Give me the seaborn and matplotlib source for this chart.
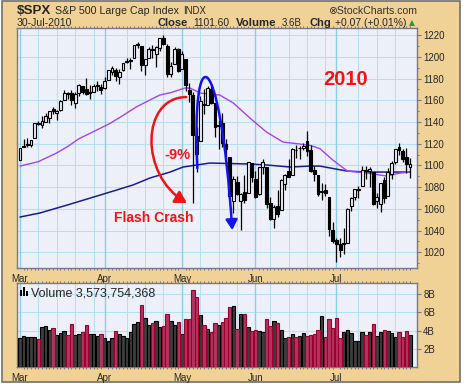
import numpy as np
import pandas as pd
import matplotlib
matplotlib.use("Agg")
import matplotlib.pyplot as plt
import seaborn as sns
from matplotlib.path import Path
from matplotlib.patches import FancyArrowPatch, Rectangle

# daily OHLC, S&P 500, 1 Mar - 30 Jul 2010
opens = [
    1105.36, 1117.01, 1119.36, 1119.12, 1125.12,
    1138.40, 1137.56, 1140.22, 1143.96, 1151.71,
    1148.53, 1150.83, 1159.94, 1166.13, 1166.68,
    1157.25, 1166.47, 1172.70, 1170.03, 1167.58,
    1167.71, 1173.75, 1171.75,
    1171.23,
    1178.71, 1186.01, 1188.23, 1181.75, 1187.47,
    1194.94, 1195.94, 1198.69, 1210.77, 1210.17,
    1192.06, 1199.04, 1207.16, 1202.52, 1207.87,
    1217.07, 1209.92, 1184.59, 1193.30, 1206.77,
    1188.58, 1197.50, 1169.24, 1164.38, 1127.04,
    1122.27, 1156.39, 1155.43, 1170.04, 1157.19,
    1136.52, 1138.78, 1119.57, 1107.34, 1067.26,
    1084.78, 1067.42, 1075.51, 1074.27, 1102.59,
    1087.30, 1073.89, 1098.82, 1098.43,
    1065.84, 1050.81, 1062.75, 1058.77, 1082.65,
    1095.00, 1091.21, 1114.02, 1115.98, 1116.16,
    1122.79, 1113.90, 1095.57, 1090.93, 1075.10,
    1077.50, 1071.10, 1040.56, 1031.10, 1027.65,
    1028.09, 1028.54, 1062.92, 1070.50,
    1077.23, 1080.65, 1095.61, 1094.46, 1093.85,
    1066.85, 1064.53, 1086.67, 1072.14, 1092.17,
    1102.89, 1117.36, 1112.84, 1108.07, 1098.44,
]
highs = [
    1116.11, 1123.96, 1125.64, 1123.73, 1139.38,
    1141.05, 1145.37, 1148.26, 1150.24, 1153.41,
    1150.98, 1160.28, 1169.20, 1167.77, 1169.20,
    1167.82, 1174.72, 1173.04, 1180.69, 1173.93,
    1174.85, 1177.83, 1174.56,
    1181.43,
    1187.73, 1191.80, 1189.60, 1188.55, 1194.66,
    1199.20, 1199.04, 1210.65, 1213.92, 1210.17,
    1197.87, 1208.58, 1210.99, 1210.27, 1217.28,
    1219.80, 1211.38, 1195.05, 1209.36, 1207.99,
    1205.13, 1197.50, 1175.95, 1167.58, 1135.13,
    1163.85, 1170.48, 1172.87, 1173.57, 1157.19,
    1141.88, 1148.66, 1124.27, 1107.34, 1090.16,
    1089.95, 1074.75, 1090.75, 1103.52, 1102.59,
    1094.77, 1098.42, 1105.67, 1098.43,
    1071.36, 1063.15, 1077.74, 1087.85, 1092.25,
    1105.91, 1115.59, 1118.74, 1117.72, 1121.01,
    1131.23, 1118.50, 1099.64, 1090.93, 1083.56,
    1082.60, 1071.10, 1048.08, 1033.58, 1032.95,
    1042.50, 1060.89, 1071.25, 1078.16,
    1080.78, 1099.46, 1099.08, 1098.66, 1093.85,
    1074.70, 1083.94, 1088.96, 1097.50, 1103.73,
    1115.01, 1120.95, 1114.66, 1115.90, 1106.44,
]
lows = [
    1105.36, 1116.51, 1116.58, 1116.66, 1125.12,
    1136.77, 1134.90, 1140.09, 1138.99, 1146.97,
    1141.45, 1150.35, 1159.94, 1161.16, 1155.33,
    1152.88, 1163.83, 1166.01, 1165.09, 1161.48,
    1167.71, 1168.92, 1165.77,
    1170.69,
    1178.71, 1182.77, 1177.25, 1175.12, 1187.15,
    1194.71, 1188.82, 1198.69, 1208.50, 1186.77,
    1183.68, 1199.04, 1198.85, 1190.19, 1205.10,
    1211.07, 1181.62, 1181.81, 1193.30, 1186.32,
    1188.58, 1168.12, 1158.15, 1065.79, 1094.15,
    1122.27, 1147.71, 1155.43, 1156.14, 1126.14,
    1114.96, 1117.20, 1100.66, 1071.58, 1055.90,
    1072.70, 1040.78, 1065.59, 1074.27, 1084.78,
    1069.89, 1072.94, 1091.81, 1060.50,
    1049.86, 1042.17, 1052.25, 1058.77, 1077.12,
    1089.03, 1091.21, 1107.13, 1105.87, 1113.93,
    1108.24, 1094.18, 1085.31, 1071.60, 1067.89,
    1071.45, 1035.18, 1028.33, 1010.91, 1015.93,
    1018.35, 1028.54, 1058.24, 1068.10,
    1070.45, 1080.65, 1087.68, 1080.53, 1063.32,
    1061.11, 1056.88, 1065.25, 1072.14, 1087.88,
    1101.30, 1109.78, 1103.11, 1092.82, 1088.01,
]
closes = [
    1115.71, 1118.31, 1118.79, 1122.97, 1138.70,
    1138.50, 1140.45, 1145.61, 1150.24, 1149.99,
    1150.51, 1159.46, 1166.21, 1165.83, 1159.90,
    1165.81, 1174.17, 1167.72, 1165.73, 1166.59,
    1173.22, 1173.27, 1169.43,
    1178.10,
    1187.44, 1189.44, 1182.45, 1186.44, 1194.37,
    1196.48, 1197.30, 1210.65, 1211.67, 1192.13,
    1197.52, 1207.17, 1205.94, 1208.67, 1217.28,
    1212.05, 1183.71, 1191.36, 1206.78, 1186.69,
    1202.26, 1173.60, 1165.87, 1128.15, 1110.88,
    1159.73, 1155.79, 1171.67, 1157.44, 1135.68,
    1136.94, 1120.80, 1115.05, 1071.59, 1087.69,
    1073.65, 1074.03, 1067.95, 1103.06, 1089.41,
    1070.71, 1098.38, 1102.83, 1064.88,
    1050.47, 1062.00, 1055.69, 1086.84, 1091.60,
    1089.63, 1115.23, 1114.61, 1116.04, 1117.51,
    1113.20, 1095.31, 1092.04, 1073.69, 1076.76,
    1074.57, 1041.24, 1030.71, 1027.37, 1022.58,
    1028.06, 1060.27, 1070.25, 1077.96,
    1078.75, 1095.34, 1095.17, 1096.48, 1064.88,
    1071.25, 1083.48, 1069.59, 1093.67, 1102.66,
    1115.01, 1113.84, 1106.13, 1101.53, 1101.60,
]
# volume, billions of shares
volume_b = [
    3.17, 3.46, 3.28, 3.28, 3.35, 3.13, 4.44, 4.55, 4.08, 4.26, 3.57, 3.79,
    4.00, 3.57, 4.77, 3.53, 3.64, 3.83, 4.66, 3.68, 3.61, 3.46, 3.68,
    3.21, 2.91, 3.24, 4.00, 3.68, 3.46, 3.17, 3.83, 4.77, 4.99, 6.85, 5.36,
    4.60, 4.88, 5.10, 4.44, 4.55, 5.87, 5.10, 4.66, 4.99,
    3.68, 5.25, 5.25, 8.42, 7.72, 5.76, 4.66, 4.23, 3.90, 4.88, 4.66, 4.99,
    5.36, 6.63, 6.74, 4.23, 5.87, 5.87, 4.44, 4.00,
    4.12, 4.00, 3.90, 5.25, 4.55, 5.10, 4.88, 4.12, 3.24, 3.35, 3.68, 3.35,
    3.46, 3.79, 3.46, 3.57, 3.68, 4.12, 5.65, 3.35, 5.25, 4.34,
    5.36, 3.24, 3.90, 4.12, 3.79, 2.91, 2.91, 3.90, 3.57, 3.90, 4.77, 3.46,
    3.90, 4.12, 4.00, 3.79, 3.35, 3.90, 3.35, 4.00, 3.57,
]
# moving averages (trading-day index, value)
ma50_day = [0, 5, 10, 13, 16, 19, 24.5, 28, 31.7, 35.3, 38, 41, 44.8, 46.2,
            49, 54.3, 58, 62.5, 67, 71.5, 75.3, 78.8, 81.5, 85, 89, 94.3,
            99.7, 103.3, 106]
ma50 = [1099.4, 1103.5, 1111.5, 1117.5, 1124.5, 1129.5, 1138.7, 1146.0,
        1154.0, 1160.2, 1164.8, 1167.0, 1171.2, 1171.2, 1166.6, 1164.8,
        1157.4, 1143.6, 1130.7, 1121.5, 1120.0, 1118.5, 1115.5, 1105.0,
        1094.8, 1093.0, 1090.2, 1093.0, 1093.9]
ma200_day = [0, 5.4, 12.8, 23.6, 30.7, 35.3, 38, 40.8, 44.3, 51.6, 62.5,
             67.1, 73.4, 78.8, 81.5, 88.9, 94.3, 106]
ma200 = [1052.5, 1056.2, 1063.5, 1074.6, 1082.0, 1088.4, 1091.1, 1093.9,
         1098.5, 1102.2, 1101.3, 1100.4, 1098.5, 1099.4, 1099.4, 1094.8,
         1093.9, 1093.9]
holidays = ["2010-04-02", "2010-05-31", "2010-07-05"]
price_ticks = [1020, 1040, 1060, 1080, 1100, 1120, 1140, 1160, 1180, 1200, 1220]
vol_ticks = [2, 4, 6, 8]

TAN = "#f0d296"
BG = "#eef0f9"
GRID = "#b6e0ee"
GRID_M = "#8ccde6"
SPINE = "#77778a"
PURPLE = "#a045ee"
NAVY = "#1c1c8a"
RED = "#f01414"
BLUE = "#1212f0"

sns.set_style("white")
plt.rcParams["font.family"] = ["Liberation Sans", "DejaVu Sans"]

dates = pd.bdate_range("2010-03-01", "2010-07-30")
dates = dates[~dates.isin(pd.to_datetime(holidays))]
day = np.arange(len(dates))
df = pd.DataFrame({"day": day, "open": opens, "high": highs, "low": lows,
                   "close": closes, "vol": volume_b})
month_start = [i for i in day if i == 0 or dates[i].month != dates[i - 1].month]
month_names = [dates[i].strftime("%b") for i in month_start]
week_start = [i for i in day if i > 0 and dates[i].weekday() < dates[i - 1].weekday()]
week_lines = [w for w in week_start if min(abs(w - m) for m in month_start) > 2]

W, H = 465.0, 384.0
def fx(px):
    return px / W
def fy(py):
    return 1 - py / H

fig = plt.figure(figsize=(4.65, 3.84), dpi=100, facecolor="white")
fig.patches.append(Rectangle((fx(1.5), fy(381.5)), fx(460) - fx(1.5), fy(1) - fy(381.5),
                             transform=fig.transFigure, facecolor=TAN,
                             edgecolor="#707070", lw=1.2, zorder=-10))

ax = fig.add_axes([fx(17.3), fy(268), fx(417) - fx(17.3), fy(28.3) - fy(268)])
axv = fig.add_axes([fx(17.3), fy(367.3), fx(417) - fx(17.3), fy(283.3) - fy(367.3)])

for a in (ax, axv):
    a.set_facecolor(BG)
    a.set_xlim(-0.73, 107.9)
    for w in week_lines:
        a.axvline(w, color=GRID, lw=0.8, zorder=0.5)
    for m in month_start:
        a.axvline(m, color=GRID_M, lw=1.0, zorder=0.6)
    for s in a.spines.values():
        s.set_color(SPINE)
        s.set_linewidth(1.0)
    a.set_xticks(month_start, month_names)
    a.set_xticks(day, minor=True)
    a.tick_params(axis="x", which="major", length=2.5, width=0.8, color=SPINE,
                  pad=1.5, labelsize=7)
    a.tick_params(axis="x", which="minor", length=1.5, width=0.7, color=SPINE,
                  top=True, bottom=True)
    a.yaxis.tick_right()

# price panel
for p in price_ticks:
    ax.axhline(p, color=GRID, lw=0.8, zorder=0.5)
sns.lineplot(x=ma200_day, y=ma200, ax=ax, color=NAVY, lw=1.1, zorder=2)
sns.lineplot(x=ma50_day, y=ma50, ax=ax, color=PURPLE, lw=1.0, zorder=2)

ax.vlines(df["day"], df["low"], df["high"], color="black", lw=0.9, zorder=3)
up = df["close"] >= df["open"]
body_lo = np.minimum(df["open"], df["close"])
body_h = np.maximum((df["close"] - df["open"]).abs(), 0.4)
ax.bar(df["day"][up], body_h[up], bottom=body_lo[up], width=0.78,
       facecolor=BG, edgecolor="black", lw=0.8, zorder=4)
ax.bar(df["day"][~up], body_h[~up], bottom=body_lo[~up], width=0.78,
       facecolor="black", edgecolor="black", lw=0.8, zorder=4)

ax.set_ylim(1005.6, 1226.2)
ax.set_yticks(price_ticks, [str(p) for p in price_ticks])
ax.set_yticks(np.arange(1010, 1226, 10), minor=True)
ax.tick_params(axis="y", which="major", length=3, width=0.8, color=SPINE,
               pad=1.5, labelsize=7)
ax.tick_params(axis="y", which="minor", length=1.5, width=0.7, color=SPINE)
ax.set_xlabel("")
ax.set_ylabel("")

# annotations
red_path = Path([(45.2, 1162.9), (32.9, 1162.9), (32.4, 1091.1), (45.4, 1065.4)],
                [Path.MOVETO, Path.CURVE4, Path.CURVE4, Path.CURVE4])
ax.add_patch(FancyArrowPatch(path=red_path, arrowstyle="-|>,head_length=0.7,head_width=0.4",
                             mutation_scale=10, color=RED, lw=1.8, zorder=6))
blue_path = Path([(48.2, 1097.6), (46.5, 1217.2), (54.2, 1217.2), (57.7, 1040.5)],
                 [Path.MOVETO, Path.CURVE4, Path.CURVE4, Path.CURVE4])
ax.add_patch(FancyArrowPatch(path=blue_path, arrowstyle="-|>,head_length=0.6,head_width=0.35",
                             mutation_scale=10, color=BLUE, lw=1.8, zorder=6))
ax.text(88.6, 1179.5, "2010", color=RED, fontsize=14.5, fontweight="bold",
        ha="center", va="center", zorder=7)
ax.text(42.7, 1109.6, "-9%", color=RED, fontsize=10.5, fontweight="bold",
        ha="center", va="center", zorder=7)
ax.text(36.3, 1051.6, "Flash Crash", color=RED, fontsize=10, fontweight="bold",
        ha="center", va="center", zorder=7)

# volume panel
for v in vol_ticks:
    axv.axhline(v, color=GRID, lw=0.8, zorder=0.5)
prev = df["close"].shift(1).fillna(df["close"].iloc[0] - 1)
vup = df["close"] >= prev
axv.bar(df["day"][vup], df["vol"][vup], width=0.92, facecolor="#3d3d3d",
        edgecolor="black", lw=0.8, zorder=3)
axv.bar(df["day"][~vup], df["vol"][~vup], width=0.92, facecolor="#b2345f",
        edgecolor="#9a0030", lw=0.8, zorder=3)
axv.set_ylim(0, 9.18)
axv.set_yticks(vol_ticks, [f"{v}B" for v in vol_ticks])
axv.tick_params(axis="y", which="major", length=3, width=0.8, color=SPINE,
                pad=1.5, labelsize=7)
axv.set_xlabel("")
axv.set_ylabel("")

# small volume glyph + legend text
for x0, y0 in [(20, 290), (23, 287), (26, 291)]:
    axv.add_patch(Rectangle(((x0 - 17.3) / 400.4, (367.3 - 296) / 84), 2.2 / 400.4,
                            (296 - y0) / 84, transform=axv.transAxes,
                            facecolor="black", lw=0, zorder=8))
axv.text((31.5 - 17.3) / 400.4, (367.3 - 296) / 84, "Volume 3,573,754,368",
         transform=axv.transAxes, fontsize=9, va="baseline", ha="left", zorder=8)

# header
fig.text(fx(17), fy(14), "$SPX", fontsize=9.6, fontweight="bold", va="baseline")
fig.text(fx(55), fy(14), "S&P 500 Large Cap Index", fontsize=7.7, va="baseline")
fig.text(fx(183), fy(14), "INDX", fontsize=6.9, va="baseline")
fig.text(fx(417), fy(14), "\u2297StockCharts.com", fontsize=7.6, va="baseline",
         ha="right", color="#333333")
fig.text(fx(17), fy(25.5), "30-Jul-2010", fontsize=7.6, va="baseline")
fig.text(fx(157), fy(25.5), "Close", fontsize=8, fontweight="bold", va="baseline")
fig.text(fx(193), fy(25.5), "1101.60", fontsize=7.4, va="baseline")
fig.text(fx(236), fy(25.5), "Volume", fontsize=8.2, fontweight="bold", va="baseline")
fig.text(fx(282), fy(25.5), "3.6B", fontsize=7, va="baseline")
fig.text(fx(310), fy(25.5), "Chg", fontsize=8, fontweight="bold", va="baseline")
fig.text(fx(335), fy(25.5), "+0.07 (+0.01%)", fontsize=7.5, va="baseline")
fig.text(fx(409), fy(25.5), "\u25b2", fontsize=5.5, va="baseline", color="#2a9a2a",
         family=["DejaVu Sans"])

fig.savefig("out.png", dpi=100, facecolor="white")
